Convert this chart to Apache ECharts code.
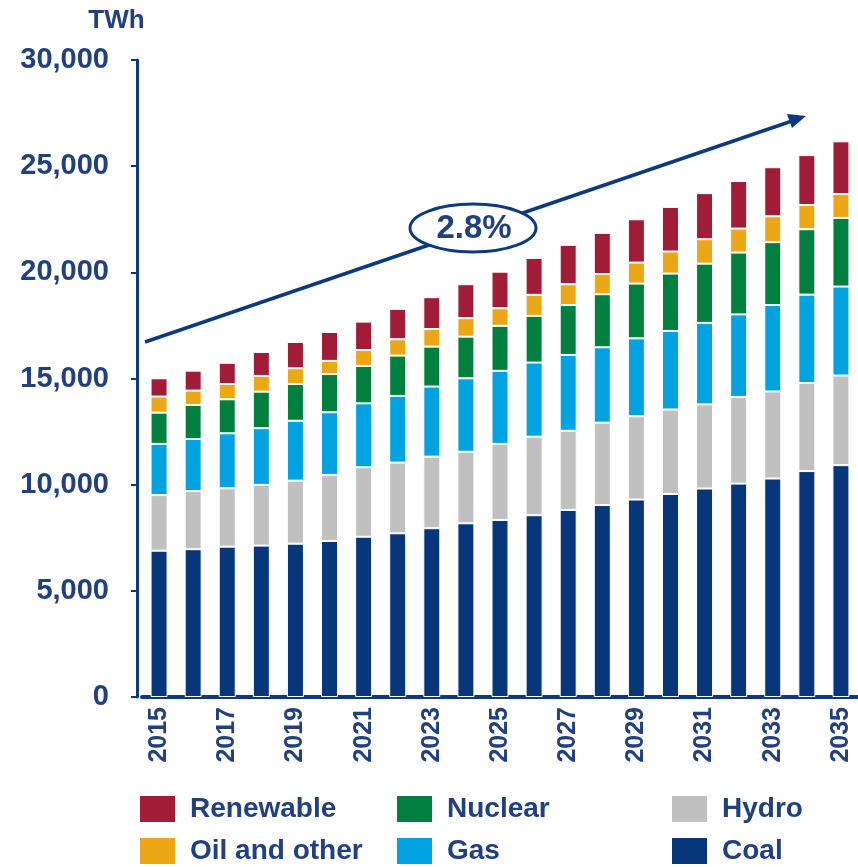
<!DOCTYPE html>
<html>
<head>
<meta charset="utf-8">
<script src="https://cdn.jsdelivr.net/npm/echarts@6/dist/echarts.min.js"></script>
<style>
  html, body { margin: 0; padding: 0; background: #fff; }
  #chart { width: 858px; height: 867px; }
</style>
</head>
<body>
<div id="chart"></div>
<script>
const years = ['2015', '2016', '2017', '2018', '2019', '2020', '2021', '2022', '2023', '2024', '2025',
  '2026', '2027', '2028', '2029', '2030', '2031', '2032', '2033', '2034', '2035']

// TWh
const coal = [6890, 6960, 7080, 7130, 7220, 7350, 7550, 7710, 7950, 8180, 8340,
  8560, 8810, 9040, 9300, 9560, 9820, 10050, 10290, 10640, 10920]
const hydro = [2620, 2740, 2750, 2860, 2970, 3110, 3270, 3330, 3370, 3370, 3580,
  3700, 3730, 3880, 3920, 3980, 3960, 4080, 4100, 4150, 4220]
const gas = [2410, 2450, 2590, 2670, 2820, 2950, 3010, 3140, 3300, 3460, 3440,
  3490, 3570, 3550, 3670, 3700, 3840, 3890, 4070, 4160, 4190]
const nuclear = [1470, 1600, 1600, 1720, 1730, 1800, 1760, 1900, 1880, 1960, 2120,
  2200, 2350, 2500, 2580, 2700, 2790, 2910, 2960, 3080, 3230]
const oil = [760, 680, 720, 740, 740, 620, 750, 770, 830, 870, 830,
  990, 980, 950, 990, 1040, 1150, 1130, 1220, 1140, 1130]
const renewable = [860, 940, 1000, 1130, 1240, 1360, 1340, 1430, 1500, 1600, 1720,
  1740, 1850, 1940, 2040, 2100, 2170, 2240, 2310, 2350, 2480]

const navy = '#0b3a82'
const textColor = '#21407f'
const font = 'Liberation Sans'

const makeSeries = (name, data, color) => ({
  name,
  type: 'bar',
  stack: 'total',
  barWidth: 17,
  data,
  itemStyle: { color, borderColor: '#fff', borderWidth: 1 },
})

const chart = echarts.init(document.getElementById('chart'))
chart.setOption({
  animation: false,
  grid: { left: 142, width: 721, top: 60, bottom: 170 },
  legend: [
    { data: ['Renewable', 'Oil and other'], left: 140 },
    { data: ['Nuclear', 'Gas'], left: 397 },
    { data: ['Hydro', 'Coal'], left: 672 },
  ].map((l) => ({
    ...l,
    top: 795,
    padding: 0,
    orient: 'vertical',
    icon: 'rect',
    itemWidth: 35,
    itemHeight: 26,
    itemGap: 14,
    itemStyle: { borderWidth: 0 },
    textStyle: { color: textColor, fontSize: 28, fontWeight: 'bold', fontFamily: font, padding: [0, 0, 0, 10] },
  })),
  xAxis: {
    type: 'category',
    data: years,
    axisLine: { lineStyle: { color: navy, width: 4 } },
    axisTick: { interval: 0, length: 6, lineStyle: { color: navy, width: 3 } },
    axisLabel: {
      interval: 1,
      rotate: 90,
      margin: 10,
      color: textColor,
      fontSize: 25,
      fontWeight: 'bold',
      fontFamily: font,
    },
  },
  yAxis: {
    type: 'value',
    min: 0,
    max: 30000,
    interval: 5000,
    offset: 5,
    name: 'TWh',
    nameLocation: 'end',
    nameGap: 26,
    nameTextStyle: { color: textColor, fontSize: 26, fontWeight: 'bold', fontFamily: font, align: 'center', padding: [0, 41, 0, 0] },
    splitLine: { show: false },
    axisLine: { show: true, lineStyle: { color: navy, width: 3 } },
    axisTick: { show: true, length: 6, lineStyle: { color: navy, width: 2 } },
    axisLabel: {
      margin: 28,
      color: textColor,
      fontSize: 29,
      fontWeight: 'bold',
      fontFamily: font,
      formatter: (v) => v.toLocaleString('en-US'),
    },
  },
  graphic: [
    { type: 'line', z: 100, shape: { x1: 145, y1: 342, x2: 792, y2: 121 }, style: { stroke: navy, lineWidth: 3.5 } },
    { type: 'polygon', z: 100, shape: { points: [[806, 116], [792, 128], [787, 114]] }, style: { fill: navy } },
    { type: 'ellipse', z: 101, shape: { cx: 473, cy: 228, rx: 63, ry: 24 }, style: { fill: '#fff', stroke: navy, lineWidth: 3 } },
    {
      type: 'text', z: 102, x: 474, y: 229,
      style: { text: '2.8%', fill: textColor, font: 'bold 33px "Liberation Sans"', align: 'center', verticalAlign: 'middle' },
    },
  ],
  series: [
    makeSeries('Coal', coal, '#08367b'),
    makeSeries('Hydro', hydro, '#c0c0c0'),
    makeSeries('Gas', gas, '#00a3e0'),
    makeSeries('Nuclear', nuclear, '#007f3f'),
    makeSeries('Oil and other', oil, '#eba716'),
    makeSeries('Renewable', renewable, '#a11c36'),
  ],
})
</script>
</body>
</html>
